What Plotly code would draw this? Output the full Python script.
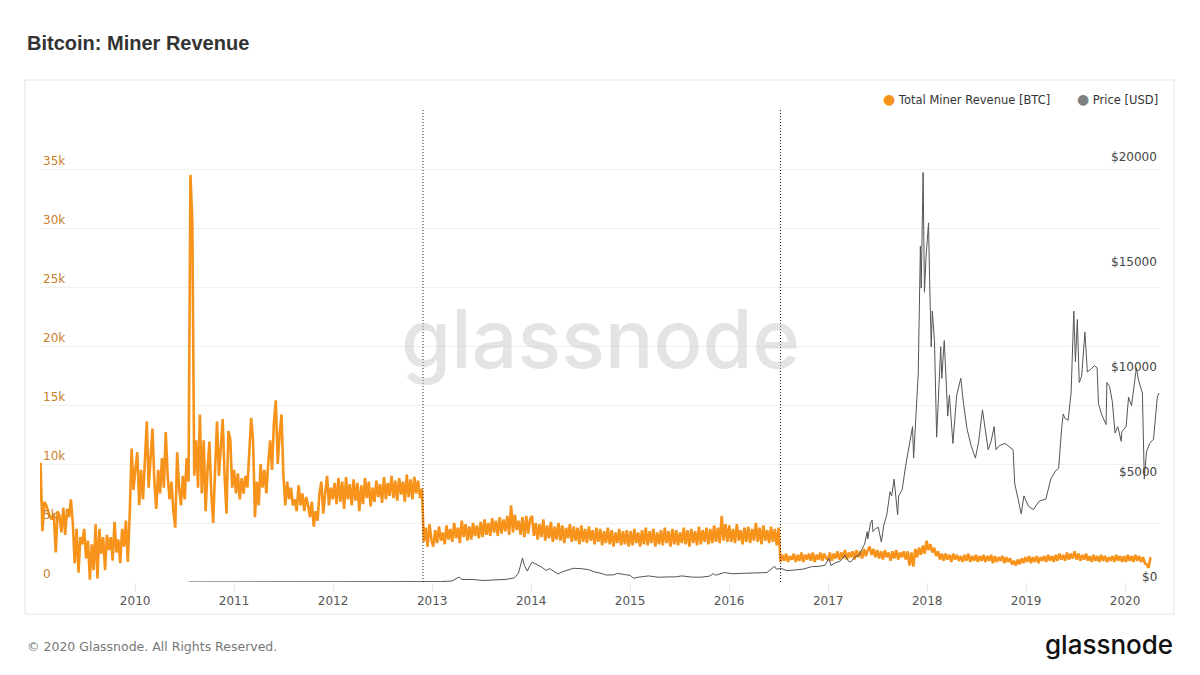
import pandas as pd
import plotly.graph_objects as go

# weekly total miner revenue, thousands of BTC, one list per year (week starting 2009-01-10)
rev_2009 = [6.3, 10.1, 4.3, 6.8, 6.5, 6.0, 5.5, 5.3, 5.8, 2.5, 6.0, 5.6, 4.2, 6.3, 4.0, 6.2, 5.5, 7.0,
            5.0, 1.6, 4.5, 0.8, 3.8, 3.2, 4.5, 2.0, 3.5, 0.2, 3.2, 1.0, 4.9, 0.3, 4.5, 2.4, 3.8, 1.0,
            4.0, 2.7, 3.8, 1.8, 5.1, 2.5, 3.6, 1.6, 4.5, 3.0, 5.2, 1.7, 5.7, 11.3, 7.8, 9.6]
rev_2010 = [11.0, 6.5, 9.5, 7.0, 9.8, 13.6, 8.0, 11.0, 13.0, 8.5, 6.2, 9.5, 7.5, 10.5, 8.0, 12.7, 9.0,
            7.0, 8.5, 6.0, 4.6, 11.0, 8.0, 6.5, 9.0, 7.0, 10.5, 8.5, 34.5, 30.5, 9.0, 12.0, 8.0, 14.2,
            7.5, 12.0, 6.0, 9.5, 11.9, 7.5, 5.0, 9.5, 13.6, 9.0, 11.0, 13.8, 9.0, 5.8, 12.8, 12.1, 8.0, 9.5]
rev_2011 = [7.5, 9.2, 7.0, 8.8, 7.5, 9.0, 8.0, 11.0, 13.9, 12.0, 5.5, 8.5, 6.5, 10.0, 8.0, 9.5, 7.5,
            10.0, 12.0, 9.5, 13.5, 15.4, 10.0, 12.5, 14.2, 9.0, 6.5, 8.5, 7.0, 8.0, 6.5, 7.0, 6.0, 8.2,
            6.5, 7.5, 6.0, 7.2, 6.5, 5.5, 6.8, 4.7, 6.0, 5.2, 7.5, 8.5, 5.8, 7.5, 9.0, 6.5, 8.0, 7.0]
rev_2012 = [8.4, 6.6, 8.8, 6.8, 8.5, 6.2, 8.9, 7.0, 8.3, 6.5, 8.7, 6.9, 8.4, 6.0, 8.2, 6.6, 8.8, 7.1,
            8.5, 6.4, 8.0, 6.8, 8.6, 7.2, 8.3, 6.7, 8.9, 7.0, 8.4, 7.3, 9.0, 7.1, 8.6, 6.9, 8.8, 7.4,
            8.5, 6.8, 9.1, 7.2, 8.7, 7.0, 8.9, 7.5, 8.6, 7.1, 7.9, 3.4, 4.6, 3.0, 4.9, 3.6]
rev_2013 = [3.0, 4.4, 3.3, 4.7, 3.5, 4.2, 3.2, 4.8, 3.6, 4.5, 3.4, 5.0, 3.7, 4.6, 3.3, 5.2, 3.8, 4.9,
            3.5, 4.7, 3.6, 5.0, 3.9, 4.8, 3.7, 5.1, 3.8, 5.3, 4.0, 5.0, 3.9, 5.4, 4.2, 5.2, 3.9, 5.5,
            4.1, 5.3, 4.3, 5.6, 4.0, 6.5, 4.2, 5.7, 4.4, 5.2, 4.0, 5.5, 3.8, 5.6, 4.1, 5.3]
rev_2014 = [5.6, 3.9, 5.0, 3.6, 4.9, 3.8, 5.3, 3.5, 4.8, 3.7, 5.1, 3.4, 4.7, 3.6, 5.0, 3.5, 4.8, 3.3,
            4.6, 3.7, 4.9, 3.4, 4.7, 3.5, 4.6, 3.2, 4.8, 3.4, 4.5, 3.3, 4.7, 3.5, 4.4, 3.2, 4.6, 3.4,
            4.5, 3.1, 4.3, 3.3, 4.6, 3.2, 4.4, 3.0, 4.2, 3.3, 4.5, 3.1, 4.3, 3.2, 4.4, 3.0]
rev_2015 = [4.3, 3.1, 4.5, 3.3, 4.2, 3.0, 4.4, 3.2, 4.6, 3.1, 4.3, 3.3, 4.5, 3.0, 4.2, 3.2, 4.4, 3.1,
            4.6, 3.3, 4.3, 3.0, 4.5, 3.2, 4.4, 3.1, 4.2, 3.3, 4.6, 3.2, 4.4, 3.0, 4.5, 3.3, 4.3, 3.1,
            4.7, 3.2, 4.4, 3.4, 4.6, 3.2, 4.5, 3.3, 4.8, 3.4, 4.6, 3.3, 5.6, 3.5, 4.9, 3.4]
rev_2016 = [4.8, 3.4, 4.5, 3.3, 4.9, 3.5, 4.4, 3.2, 4.6, 3.4, 4.7, 3.3, 4.5, 3.5, 5.0, 3.4, 4.6, 3.2,
            4.8, 3.5, 4.4, 3.3, 4.7, 3.4, 4.5, 3.1, 4.6, 1.7, 2.3, 1.8, 2.4, 1.7, 2.2, 1.9, 2.4, 1.7,
            2.3, 1.8, 2.5, 1.7, 2.3, 1.9, 2.4, 1.8, 2.5, 1.7, 2.3, 1.9, 2.5, 1.8, 2.4, 2.0]
rev_2017 = [1.9, 2.5, 1.8, 2.4, 2.0, 2.6, 1.9, 2.5, 2.0, 2.7, 1.9, 2.5, 2.1, 2.6, 1.9, 2.7, 2.1, 2.6,
            2.0, 2.8, 2.2, 2.7, 3.0, 2.3, 2.8, 2.1, 2.7, 2.0, 2.6, 1.9, 2.7, 2.1, 2.5, 1.8, 2.6, 2.0,
            2.7, 1.9, 2.5, 2.1, 2.6, 1.9, 2.6, 1.4, 2.5, 1.3, 2.8, 2.1, 2.9, 2.3, 3.1, 2.4]
rev_2018 = [3.5, 2.7, 3.2, 2.5, 2.9, 2.2, 2.6, 1.9, 2.4, 1.8, 2.4, 1.9, 2.3, 1.7, 2.4, 1.9, 2.3, 1.8,
            2.2, 1.7, 2.3, 1.8, 2.4, 1.7, 2.2, 1.8, 2.3, 1.7, 2.2, 1.8, 2.3, 1.7, 2.2, 1.8, 2.3, 1.6,
            2.2, 1.7, 2.1, 1.8, 2.2, 1.6, 2.1, 1.7, 2.0, 1.5, 1.8, 1.4, 1.9, 1.5, 2.0, 1.6]
rev_2019 = [2.1, 1.7, 2.2, 1.6, 2.1, 1.7, 2.2, 1.6, 2.1, 1.8, 2.2, 1.7, 2.3, 1.8, 2.2, 1.7, 2.3, 1.8,
            2.4, 1.9, 2.3, 1.8, 2.5, 1.9, 2.4, 2.0, 2.6, 1.9, 2.4, 1.8, 2.3, 1.9, 2.4, 1.8, 2.2, 1.7,
            2.3, 1.8, 2.2, 1.7, 2.3, 1.8, 2.2, 1.7, 2.1, 1.8, 2.2, 1.7, 2.3, 1.8, 2.2, 1.7]
rev_2020 = [2.2, 1.7, 2.3, 1.8, 2.2, 1.7, 2.3, 1.8, 2.2, 1.7, 2.1, 1.6, 1.5, 1.2, 2.1]

# BTC price in USD
price_dates = [
    "2010-07-18", "2010-11-01", "2011-02-10", "2011-06-08", "2011-10-01", "2012-01-01", "2012-06-01",
    "2012-09-01", "2012-12-01", "2013-02-01", "2013-03-15", "2013-04-10", "2013-04-20", "2013-06-01",
    "2013-07-05", "2013-08-15", "2013-10-01", "2013-11-01", "2013-11-15", "2013-11-30", "2013-12-07",
    "2013-12-18", "2013-12-26", "2014-01-05", "2014-01-25", "2014-02-10", "2014-02-25", "2014-03-10",
    "2014-04-10", "2014-04-25", "2014-06-05", "2014-07-01", "2014-08-01", "2014-08-20", "2014-09-20",
    "2014-10-05", "2014-11-01", "2014-11-15", "2014-12-15", "2015-01-01", "2015-01-14", "2015-02-01",
    "2015-03-10", "2015-04-15", "2015-05-15", "2015-06-20", "2015-07-10", "2015-08-20", "2015-09-20",
    "2015-10-20", "2015-11-04", "2015-11-12", "2015-12-15", "2016-01-15", "2016-02-15", "2016-03-15",
    "2016-04-15", "2016-05-20", "2016-06-17", "2016-06-24", "2016-07-10", "2016-08-02", "2016-09-01",
    "2016-10-01", "2016-11-01", "2016-12-01", "2016-12-20", "2017-01-04", "2017-01-11", "2017-01-25",
    "2017-02-15", "2017-03-03", "2017-03-18", "2017-03-25", "2017-04-10", "2017-04-25", "2017-05-05",
    "2017-05-15", "2017-05-25", "2017-05-27", "2017-06-06", "2017-06-12", "2017-06-15", "2017-06-25",
    "2017-07-05", "2017-07-16", "2017-07-25", "2017-08-05", "2017-08-17", "2017-08-23", "2017-09-01",
    "2017-09-14", "2017-09-18", "2017-10-01", "2017-10-12", "2017-10-20", "2017-11-01", "2017-11-08",
    "2017-11-12", "2017-11-20", "2017-11-29", "2017-12-07", "2017-12-10", "2017-12-17", "2017-12-22",
    "2017-12-28", "2018-01-06", "2018-01-10", "2018-01-16", "2018-01-20", "2018-01-28", "2018-02-05",
    "2018-02-10", "2018-02-20", "2018-02-24", "2018-03-05", "2018-03-18", "2018-03-24", "2018-04-06",
    "2018-04-20", "2018-05-05", "2018-05-15", "2018-05-28", "2018-06-12", "2018-06-28", "2018-07-10",
    "2018-07-24", "2018-08-03", "2018-08-14", "2018-08-25", "2018-09-05", "2018-09-12", "2018-09-25",
    "2018-10-15", "2018-11-05", "2018-11-14", "2018-11-20", "2018-11-28", "2018-12-14", "2018-12-24",
    "2019-01-10", "2019-01-28", "2019-02-18", "2019-03-15", "2019-04-02", "2019-04-20", "2019-05-01",
    "2019-05-12", "2019-05-18", "2019-05-24", "2019-06-05", "2019-06-16", "2019-06-26", "2019-07-02",
    "2019-07-09", "2019-07-16", "2019-07-25", "2019-08-06", "2019-08-15", "2019-08-25", "2019-09-10",
    "2019-09-20", "2019-09-25", "2019-10-06", "2019-10-23", "2019-10-26", "2019-11-05", "2019-11-15",
    "2019-11-25", "2019-12-05", "2019-12-18", "2019-12-20", "2020-01-05", "2020-01-14", "2020-01-25",
    "2020-02-12", "2020-02-20", "2020-03-05", "2020-03-12", "2020-03-20", "2020-04-01", "2020-04-15",
    "2020-04-29", "2020-05-05",
]
price_usd = [
    0.05, 0.3, 1, 30, 5, 5, 6,
    11, 12, 20, 47, 235, 120, 120,
    70, 100, 125, 200, 420, 1140, 780,
    520, 750, 950, 820, 700, 550, 640,
    380, 480, 650, 640, 590, 490, 400,
    330, 340, 410, 350, 315, 180, 230,
    290, 225, 240, 245, 290, 230, 230,
    275, 400, 320, 450, 390, 410, 415,
    430, 450, 750, 610, 650, 540, 575,
    615, 730, 750, 800, 1130, 780, 900,
    1000, 1270, 970, 960, 1200, 1270, 1550,
    1800, 2400, 2050, 2800, 2950, 2400, 2550,
    2600, 1900, 2700, 3200, 4300, 4100, 4900,
    3200, 4100, 4400, 5400, 6000, 6700, 7400,
    5900, 8100, 9900, 16000, 14000, 19500, 13800,
    15500, 17100, 14400, 11200, 12900, 11500, 6900,
    8600, 11200, 9700, 11500, 7900, 8900, 6600,
    8900, 9700, 8500, 7300, 6500, 5900, 6700,
    8200, 7300, 6300, 6700, 7400, 6300, 6500,
    6600, 6400, 6300, 4700, 4200, 3250, 4100,
    3600, 3450, 3850, 3950, 4900, 5300, 5400,
    7300, 8000, 7800, 7700, 9000, 12900, 10500,
    12500, 9500, 9800, 11900, 10000, 10100, 10300,
    10200, 8500, 8000, 7500, 9500, 9300, 8600,
    7100, 7400, 6700, 7150, 7400, 8800, 8400,
    10200, 9600, 9000, 4900, 6200, 6600, 6800,
    8800, 9000,
]

halving_dates = ["2012-11-28", "2016-07-09"]
year_ticks = [f"{y}-01-01" for y in range(2010, 2021)]
year_labels = [str(y) for y in range(2010, 2021)]
rev_ticks = [0, 5, 10, 15, 20, 25, 30, 35, 40]
rev_ticktext = ["0", "5k", "10k", "15k", "20k", "25k", "30k", "35k", ""]
price_ticks = [0, 5000, 10000, 15000, 20000]

ORANGE = "#f7931a"
GREY = "#808080"

rev_k = (rev_2009 + rev_2010 + rev_2011 + rev_2012 + rev_2013 + rev_2014 + rev_2015
         + rev_2016 + rev_2017 + rev_2018 + rev_2019 + rev_2020)
rev_dates = pd.date_range("2009-01-10", periods=len(rev_k), freq="7D")

fig = go.Figure()
fig.add_trace(go.Scatter(x=rev_dates, y=rev_k, mode="lines", name="Total Miner Revenue [BTC]",
                         line=dict(color=ORANGE, width=2.6), yaxis="y"))
fig.add_trace(go.Scatter(x=pd.to_datetime(price_dates), y=price_usd, mode="lines", name="Price [USD]",
                         line=dict(color="#555555", width=1), yaxis="y2"))

for d in halving_dates:
    fig.add_shape(type="line", x0=d, x1=d, xref="x", y0=0, y1=1, yref="paper",
                  line=dict(color="#222222", width=1, dash="1px,2px"))

# price axis labels sit inside the plot, just above their value
for p in price_ticks:
    fig.add_annotation(text=f"${p}", x=1.0, xref="paper", y=p, yref="y2", xanchor="right",
                       yanchor="bottom", showarrow=False, xshift=-1, yshift=-4,
                       font=dict(family="DejaVu Sans", size=12, color="#444444"))

# outer frame
fig.add_shape(type="rect", xref="paper", yref="paper", x0=-0.0134, x1=1.0125, y0=-0.0678, y1=1.0636,
              line=dict(color="#e3e3e3", width=1), layer="below")

fig.add_annotation(text="glassnode", x=0.5, y=0.515, xref="paper", yref="paper", showarrow=False,
                   font=dict(family="Inter", size=81, color="rgba(190,190,190,0.42)", weight=500))
fig.add_annotation(text="<b>Bitcoin: Miner Revenue</b>", x=-0.0134, y=1.142, xref="paper", yref="paper",
                   xanchor="left", yanchor="middle", showarrow=False,
                   font=dict(family="Liberation Sans", size=20, color="#333333"))
fig.add_annotation(text="\u00a9 2020 Glassnode. All Rights Reserved.", x=-0.0134, y=-0.1356,
                   xref="paper", yref="paper", xanchor="left", yanchor="middle", showarrow=False,
                   font=dict(family="DejaVu Sans", size=12.5, color="#777777"))
fig.add_annotation(text="glassnode", x=1.0137, y=-0.133, xref="paper", yref="paper",
                   xanchor="right", yanchor="middle", showarrow=False,
                   font=dict(family="Inter", size=26, color="#111111", weight=500))

# legend drawn as text so the dots sit close to the labels
fig.add_annotation(text=f"<span style='color:{GREY};font-size:14px'>\u25cf</span> Price [USD]", x=1.0, y=1.024,
                   xref="paper", yref="paper", xanchor="right", yanchor="middle", showarrow=False,
                   font=dict(family="DejaVu Sans", size=11.5, color="#333333"))
fig.add_annotation(text=f"<span style='color:{ORANGE};font-size:14px'>\u25cf</span> Total Miner Revenue [BTC]",
                   x=0.9036, y=1.024, xref="paper", yref="paper", xanchor="right", yanchor="middle",
                   showarrow=False, font=dict(family="DejaVu Sans", size=11.5, color="#333333"))

# page body adds an 8px margin, so the figure is shifted back by that much
fig.update_layout(
    width=1184, height=659,
    margin=dict(l=32, r=32, t=102, b=85),
    paper_bgcolor="white", plot_bgcolor="white",
    showlegend=False, hovermode=False,
    font=dict(family="DejaVu Sans", size=12, color="#555555"),
    xaxis=dict(type="date", range=["2009-01-15", "2020-05-09"], showgrid=False, zeroline=False,
               tickvals=year_ticks, ticktext=year_labels, ticks="outside", ticklen=8,
               tickcolor="#e6e6e6", tickfont=dict(size=12, color="#555555")),
    yaxis=dict(range=[0, 40], tickvals=rev_ticks, ticktext=rev_ticktext, showgrid=True,
               gridcolor="#f0f0f0", zeroline=False, ticklabelposition="inside top",
               tickfont=dict(size=12, color="#c9802a")),
    yaxis2=dict(range=[0, 22476], overlaying="y", side="right", showticklabels=False,
                showgrid=False, zeroline=False),
)

fig.write_html("out.html")
